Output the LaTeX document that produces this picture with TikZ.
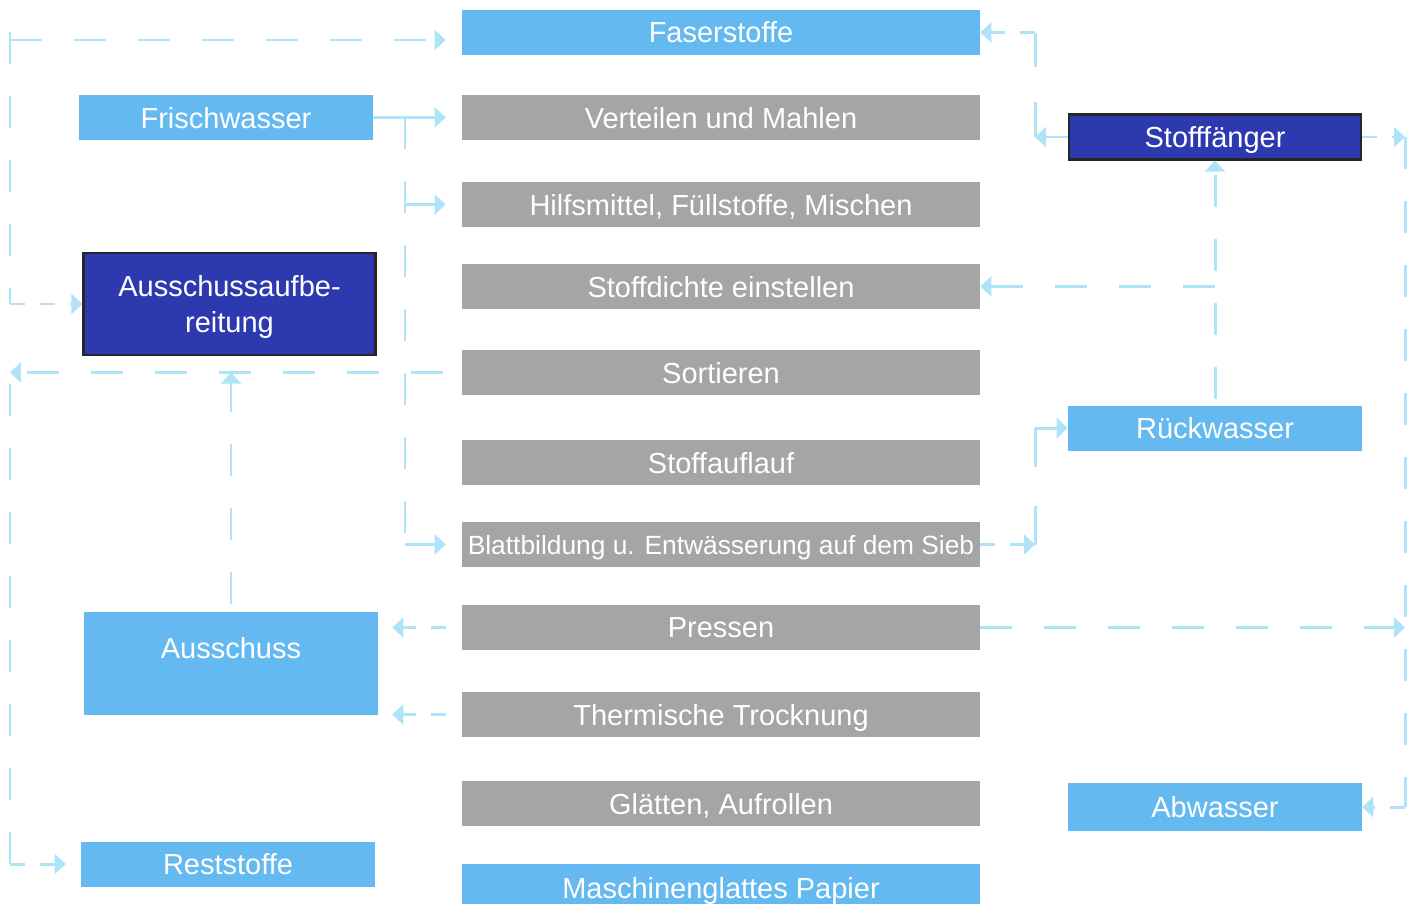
\documentclass[tikz,border=0pt]{standalone}
\usepackage{fontspec}
\setmainfont{Liberation Sans}
\usetikzlibrary{positioning, arrows.meta}

\definecolor{boxblue}{HTML}{64B9F1}
\definecolor{boxgray}{HTML}{A5A5A5}
\definecolor{boxdark}{HTML}{2D3AAF}
\definecolor{flowcyan}{HTML}{AEE3F8}

\begin{document}
\begin{tikzpicture}[
  x=0.02cm, y=-0.02cm,
  base/.style={minimum height=0.9cm, align=center, inner sep=2pt, text=white,
               text depth=0pt, font=\fontsize{16.5}{20}\selectfont},
  sbox/.style={base, fill=boxgray, minimum width=10.36cm},
  lbox/.style={base, fill=boxblue, minimum width=5.88cm},
  dbox/.style={base, fill=boxdark, draw=black!85, line width=1.2pt,
               minimum width=5.84cm},
  link/.style={flowcyan, line width=1.7pt,
               -{Triangle[length=0.22cm, width=0.4cm]}},
  dlink/.style={link, dash pattern=on 0.64cm off 0.64cm},
  tlink/.style={link, dash pattern=on 0.3cm off 0.3cm},
  dline/.style={flowcyan, line width=1.7pt, dash pattern=on 0.64cm off 0.64cm},
]
  \useasboundingbox (0,0) rectangle (1416,903);

  % ═══ Middle: process steps ═══════════════════════════════════
  \node[sbox, fill=boxblue] (faser)    at (721,32.5)  {Faserstoffe};
  \node[sbox] (mahlen)   at (721,117.5) {Verteilen und Mahlen};
  \node[sbox] (hilfs)    at (721,204.5) {Hilfsmittel, Füllstoffe, Mischen};
  \node[sbox] (dichte)   at (721,286.5) {Stoffdichte einstellen};
  \node[sbox] (sort)     at (721,372.5) {Sortieren};
  \node[sbox] (auflauf)  at (721,462.5) {Stoffauflauf};
  \node[sbox, font=\fontsize{15}{18}\selectfont] (blatt) at (721,544.5)
    {Blattbildung u. Entwässerung auf dem Sieb};
  \node[sbox] (pressen)  at (721,627.5) {Pressen};
  \node[sbox] (trocken)  at (721,714.5) {Thermische Trocknung};
  \node[sbox] (glaetten) at (721,803.5) {Glätten, Aufrollen};
  \node[sbox, fill=boxblue, minimum height=0.96cm] (papier) at (721,888)
    {Maschinenglattes Papier};

  % ═══ Left column ═════════════════════════════════════════════
  \node[lbox] (frisch) at (226,117.5) {Frischwasser};
  \node[dbox, minimum height=2.04cm] (aufber) at (229.5,304) {Ausschussaufbe-\\reitung};
  \node[lbox, minimum height=2.06cm, text depth=0.64cm] (ausschuss) at (231,663.5) {Ausschuss};
  \node[lbox] (rest) at (228,864) {Reststoffe};

  % ═══ Right column ════════════════════════════════════════════
  \node[dbox] (faenger) at (1215,137) {Stofffänger};
  \node[lbox] (rueck) at (1215,428) {Rückwasser};
  \node[lbox, minimum height=0.96cm] (abw) at (1215,807) {Abwasser};

  % junctions and corners
  \coordinate (fw)       at (405,117.5);
  \coordinate (fw_hilf)  at (405,204.5);
  \coordinate (fw_blatt) at (405,544.5);
  \coordinate (l_top)    at (10,32);
  \coordinate (l_fas)    at (10,40);
  \coordinate (l_aufb)   at (10,304);
  \coordinate (l_sort)   at (10,372.5);
  \coordinate (l_rest)   at (10,864);
  \coordinate (m_fas)    at (1035,32.5);
  \coordinate (m_top)    at (1035,137);
  \coordinate (m_rueck)  at (1035,428);
  \coordinate (m_blatt)  at (1035,544.5);
  \coordinate (m_dichte) at (1215,286.5);
  \coordinate (r_top)    at (1405,137);
  \coordinate (r_press)  at (1405,627.5);
  \coordinate (r_abw)    at (1405,807);

  % Frischwasser
  \draw[link, shorten >=0.32cm] (frisch.east) -- (mahlen.west);
  \draw[dline] (fw) -- (fw_blatt);
  \draw[link, shorten >=0.32cm] (fw_hilf) -- (hilfs.west);
  \draw[link, shorten >=0.32cm] (fw_blatt) -- (blatt.west);

  % Ausschuss loop (left)
  \draw[dlink, shorten <=0.38cm] (sort.west) -- (l_sort);
  \draw[dline] (l_rest) -- (l_sort);
  \draw[tlink, shorten >=0.3cm] (l_rest) -- (rest.west);
  \draw[dline] (l_top) -- (l_aufb);
  \draw[tlink] (l_aufb) -- (aufber.west);
  \draw[dlink, shorten >=0.32cm] (l_fas) -- (l_fas -| faser.west);
  \draw[dlink, shorten <=0.16cm] (ausschuss.north) -- (ausschuss.north |- sort.west);
  \draw[tlink, shorten <=0.32cm, shorten >=0.28cm] (pressen.west) -- (pressen.west -| ausschuss.east);
  \draw[tlink, shorten <=0.32cm, shorten >=0.28cm] (trocken.west) -- (trocken.west -| ausschuss.east);

  % Wasser (right)
  \draw[link] (faenger.west) -- (m_top);
  \draw[dline, dash pattern=on 0.7cm off 0.7cm] (m_top) -- (m_fas);
  \draw[tlink] (m_fas) -- (faser.east);
  \draw[tlink] (blatt.east) -- (m_blatt);
  \draw[dline, dash pattern=on 0.78cm off 0.78cm] (m_blatt) -- (m_rueck);
  \draw[link] (m_rueck) -- (rueck.west);
  \draw[dlink, shorten <=0.12cm] (rueck.north) -- (faenger.south);
  \draw[dlink] (m_dichte) -- (dichte.east);
  \draw[tlink] (faenger.east) -- (r_top);
  \draw[dlink] (pressen.east) -- (r_press);
  \draw[dline] (r_top) -- (r_abw);
  \draw[tlink] (r_abw) -- (abw.east);
\end{tikzpicture}
\end{document}
